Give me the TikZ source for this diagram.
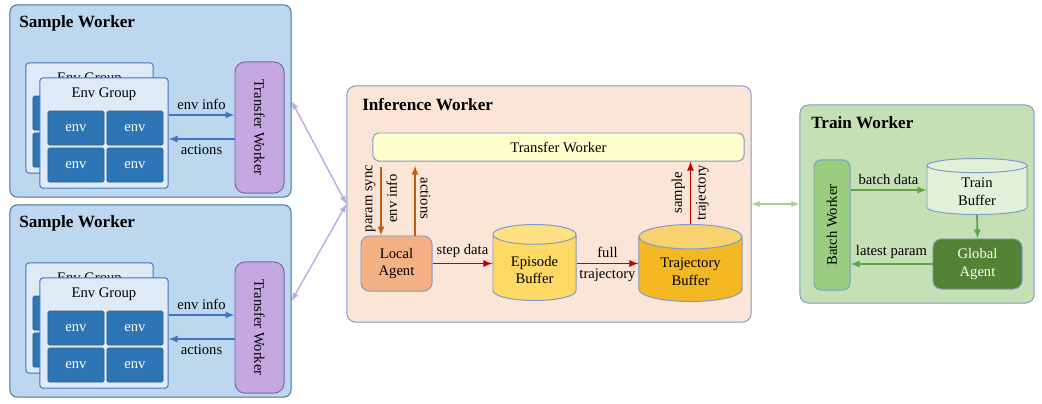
\documentclass[tikz,border=0pt]{standalone}
\usepackage{fontspec}
\setmainfont{Liberation Serif}
\usepackage{graphicx}
\usetikzlibrary{positioning}
\usetikzlibrary{calc}
\usetikzlibrary{shapes}

\definecolor{swfill}{HTML}{BDD7EE}
\definecolor{swline}{HTML}{41719C}
\definecolor{egfill}{HTML}{DEEBF7}
\definecolor{egline}{HTML}{4472C4}
\definecolor{envfill}{HTML}{2E75B6}
\definecolor{envline}{HTML}{2F5E8E}
\definecolor{twfill}{HTML}{C5A8E2}
\definecolor{twline}{HTML}{7F62A8}
\definecolor{purplearr}{HTML}{C0A8E4}
\definecolor{bluearr}{HTML}{4472C4}
\definecolor{iwfill}{HTML}{FBE5D6}
\definecolor{iwline}{HTML}{7E9BC8}
\definecolor{tbfill}{HTML}{FFFFCC}
\definecolor{lafill}{HTML}{F4B183}
\definecolor{orangearr}{HTML}{C55A11}
\definecolor{redarr}{HTML}{C00000}
\definecolor{ebfill}{HTML}{FFD966}
\definecolor{ebtop}{HTML}{FFE083}
\definecolor{tjfill}{HTML}{F4B824}
\definecolor{tjtop}{HTML}{F8D26E}
\definecolor{trfill}{HTML}{C5E0B4}
\definecolor{bwfill}{HTML}{9ACD80}
\definecolor{tbuffill}{HTML}{E2F0D9}
\definecolor{gafill}{HTML}{548235}
\definecolor{greenarr}{HTML}{5FA446}
\definecolor{lgarr}{HTML}{A9D18E}

\begin{document}
\begin{tikzpicture}[x=0.025cm,y=-0.025cm,
  font=\fontsize{10.4}{12.5}\selectfont,
  title/.style={anchor=west,inner sep=0pt,font=\fontsize{12.2}{14}\selectfont\bfseries},
  swbox/.style={draw=swline,fill=swfill,line width=0.7pt,rounded corners=5pt},
  egbox/.style={draw=egline,fill=egfill,line width=0.7pt,rounded corners=2pt},
  envbox/.style={draw=envline,fill=envfill,text=white,rounded corners=1pt,
    minimum width=1.4cm,minimum height=0.85cm},
  twbox/.style={draw=twline,fill=twfill,line width=0.7pt,rounded corners=7pt},
  iwbox/.style={draw=iwline,fill=iwfill,line width=0.7pt,rounded corners=6pt},
  tbbox/.style={draw=iwline,fill=tbfill,line width=0.7pt,rounded corners=4pt},
  labox/.style={draw=iwline,fill=lafill,line width=0.7pt,rounded corners=6pt,align=center},
  cyl/.style={cylinder,shape border rotate=90,aspect=0.35,draw=iwline,line width=0.7pt,
    cylinder uses custom fill,align=center,anchor=south},
  trbox/.style={draw=iwline,fill=trfill,line width=0.7pt,rounded corners=6pt},
  bwbox/.style={draw=iwline,fill=bwfill,line width=0.7pt,rounded corners=5pt},
  gabox/.style={draw=iwline,fill=gafill,text=white,line width=0.7pt,rounded corners=6pt,align=center},
  bluearrow/.style={-latex,draw=bluearr,line width=1.2pt},
  orangearrow/.style={-latex,draw=orangearr,line width=1.2pt},
  redarrow/.style={-latex,draw=redarr,line width=1.2pt},
  greenarrow/.style={-latex,draw=greenarr,line width=1.2pt},
  purplearrow/.style={latex-latex,draw=purplearr,line width=1pt},
  lgarrow/.style={latex-latex,draw=lgarr,line width=1pt}]
\useasboundingbox (0,0) rectangle (1042,403);

% sample workers
\foreach \s/\dy in {1/0,2/200}{
\node[swbox,minimum width=7.025cm,minimum height=4.8cm](sw\s) at (150.5,101+\dy){};
\node[title](swt\s) at (19,23.5+\dy){Sample Worker};
\node[egbox,minimum width=3.175cm,minimum height=2.75cm](bg\s) at (89.5,118+\dy){};
\node[](bgt\s) at (89.5,79+\dy){Env Group};
\foreach \c/\cx/\cy in {a/61/113,b/120/113,c/61/150,d/120/150}
  \node[envbox](be\s\c) at (\cx,\cy+\dy){};
\node[egbox,minimum width=3.2cm,minimum height=2.75cm](fg\s) at (104,133+\dy){};
\node[](fgt\s) at (104,94+\dy){Env Group};
\foreach \c/\cx/\cy in {a/76/128,b/135/128,c/76/165,d/135/165}
  \node[envbox](fe\s\c) at (\cx,\cy+\dy){env};
\node[twbox,minimum width=1.225cm,minimum height=3.275cm](tw\s) at (259.5,127.5+\dy){\rotatebox{-90}{Transfer Worker}};
\coordinate(ei\s) at (0,115+\dy);
\coordinate(ac\s) at (0,139+\dy);
\path
(ei\s -| fg\s.east) edge[bluearrow]node[above]{env info} (ei\s -| tw\s.west)
(ac\s -| tw\s.west) edge[bluearrow]node[below]{actions} (ac\s -| fg\s.east);
}

% inference worker
\node[iwbox,minimum width=10.1cm,minimum height=5.9cm](iw) at (549,204){};
\node[title](iwt) at (362,105){Inference Worker};
\node[tbbox,minimum width=9.275cm,minimum height=0.7cm](tb) at (558.5,147){Transfer Worker};
\node[labox,minimum width=1.775cm,minimum height=1.375cm](la) at (396.5,263.5){Local\\Agent};
\node[cyl,cylinder body fill=ebfill,cylinder end fill=ebtop,minimum width=2.075cm,minimum height=1.9cm](eb) at (534.5,301){Episode\\Buffer};
\node[cyl,cylinder body fill=tjfill,cylinder end fill=tjtop,minimum width=2.575cm,minimum height=1.925cm](tjb) at (690.5,302){Trajectory\\Buffer};
\coordinate(psx) at (381,0);
\coordinate(acx) at (415,0);

\path
(psx |- tb.south) edge[orangearrow,shorten <=4pt]node[rotate=90,above]{param sync}node[rotate=90,below]{env info} (psx |- la.north)
(acx |- la.north) edge[orangearrow,shorten >=3pt]node[rotate=-90,above]{actions} (acx |- tb.south)
(la) edge[redarrow]node[above]{step data} (la -| eb.west)
(eb.east |- la) edge[redarrow]node[above]{full}node[below]{trajectory} (tjb.west |- la)
(tjb.north) edge[redarrow]node[rotate=90,above]{sample}node[rotate=90,below]{trajectory} (tjb.north |- tb.south);

% train worker
\node[trbox,minimum width=5.85cm,minimum height=4.95cm](trw) at (917,204){};
\node[title](trwt) at (811,123){Train Worker};
\node[bwbox,minimum width=0.9cm,minimum height=3.25cm](bw) at (832,225){\rotatebox{90}{Batch Worker}};
\node[cyl,aspect=0.3,cylinder body fill=tbuffill,cylinder end fill=tbuffill,minimum width=2.5cm,minimum height=1.4cm](tbuf) at (977,215){Train\\Buffer};
\node[gabox,minimum width=2.225cm,minimum height=1.25cm](ga) at (977.5,264){Global\\Agent};
\coordinate(bdy) at (0,190);

\path
(bdy -| bw.east) edge[greenarrow]node[above]{batch data} (bdy -| tbuf.west)
(tbuf.south) edge[greenarrow]node{} (ga.north)
(ga.west) edge[greenarrow]node[above]{latest param} (bw.east |- ga.west);

% between workers
\path
(sw1.east) edge[purplearrow]node{} (iw.west)
(sw2.east) edge[purplearrow]node{} (iw.west)
(iw.east) edge[lgarrow]node{} (trw.west);
\end{tikzpicture}
\end{document}
